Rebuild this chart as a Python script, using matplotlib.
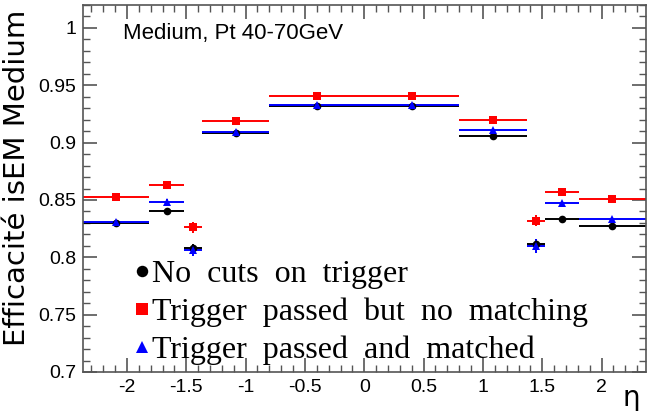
import matplotlib.pyplot as plt
from matplotlib.lines import Line2D
from matplotlib.ticker import MultipleLocator

# eta bins
bin_edges = [-2.37, -1.81, -1.52, -1.37, -0.8, 0.0, 0.8, 1.37, 1.52, 1.81, 2.37]

eff_nocut = [0.830, 0.840, 0.808, 0.908, 0.932, 0.932, 0.906, 0.812, 0.833, 0.827]
err_nocut = [0.001, 0.003, 0.004, 0.001, 0.001, 0.001, 0.001, 0.004, 0.002, 0.001]
eff_nomatch = [0.853, 0.863, 0.826, 0.919, 0.941, 0.941, 0.920, 0.832, 0.857, 0.851]
err_nomatch = [0.001, 0.002, 0.005, 0.001, 0.001, 0.001, 0.001, 0.005, 0.002, 0.001]
eff_matched = [0.831, 0.848, 0.806, 0.909, 0.933, 0.933, 0.911, 0.810, 0.847, 0.833]
err_matched = [0.001, 0.003, 0.005, 0.001, 0.001, 0.001, 0.001, 0.006, 0.002, 0.001]

labels = ['No  cuts  on  trigger', 'Trigger  passed  but  no  matching',
          'Trigger  passed  and  matched']

centers = [(a + b) / 2 for a, b in zip(bin_edges[:-1], bin_edges[1:])]
half_w = [(b - a) / 2 for a, b in zip(bin_edges[:-1], bin_edges[1:])]

fig = plt.figure(figsize=(6.47, 4.11), dpi=100)
ax = fig.add_axes([0.1283, 0.0949, 0.8694, 0.8929])

series = [
    (eff_nocut, err_nocut, 'black', 'o', 5.5),
    (eff_nomatch, err_nomatch, '#ff0000', 's', 5.5),
    (eff_matched, err_matched, '#0000ff', '^', 6),
]
handles = []
for (vals, errs, col, mk, ms), lab in zip(series, labels):
    ax.errorbar(centers, vals, xerr=half_w, yerr=errs, fmt=mk, color=col,
                ecolor=col, elinewidth=1.4, markersize=ms, capsize=0,
                markeredgewidth=0)
    handles.append(Line2D([], [], ls='none', marker=mk, color=col,
                          markersize=ms * 1.5, markeredgewidth=0, label=lab))

ax.set_xlim(-2.37, 2.37)
ax.set_ylim(0.7, 1.02)
ax.xaxis.set_minor_locator(MultipleLocator(0.1))
ax.yaxis.set_minor_locator(MultipleLocator(0.01))
ax.set_xticks([-2, -1.5, -1, -0.5, 0, 0.5, 1, 1.5, 2])
ax.set_xticklabels(['-2', '-1.5', '-1', '-0.5', '0', '0.5', '1', '1.5', '2'])
ax.set_yticks([0.7, 0.75, 0.8, 0.85, 0.9, 0.95, 1.0])
ax.set_yticklabels(['0.7', '0.75', '0.8', '0.85', '0.9', '0.95', '1'])

ax.tick_params(which='both', direction='in', top=True, right=True, color='#555555')
ax.tick_params(which='major', length=10, width=1.2, labelsize=14, pad=5)
ax.tick_params(which='minor', length=5, width=1.0)
for lbl in ax.get_xticklabels() + ax.get_yticklabels():
    lbl.set_fontfamily('Liberation Sans')
for sp in ax.spines.values():
    sp.set_color('#555555')
    sp.set_linewidth(1.2)

fig.text(17 / 647, 1 - 10 / 411, 'Efficacité isEM Medium', rotation=90,
         ha='center', va='top', fontsize=21, family='DejaVu Sans')
fig.text(631 / 647, 1 - 398 / 411, 'η', ha='center', va='center',
         fontsize=20, family='DejaVu Sans')
ax.text(-2.03, 0.995, 'Medium, Pt 40-70GeV', ha='left', va='center',
        fontsize=16, family='Liberation Sans')

ax.legend(handles=handles, loc='upper left', bbox_to_anchor=(0.088, 0.306),
          frameon=False, prop={'family': 'Liberation Serif', 'size': 23},
          handletextpad=0.0, handlelength=0.6, labelspacing=0.27,
          borderpad=0, borderaxespad=0)

fig.savefig('out.png', dpi=100)
